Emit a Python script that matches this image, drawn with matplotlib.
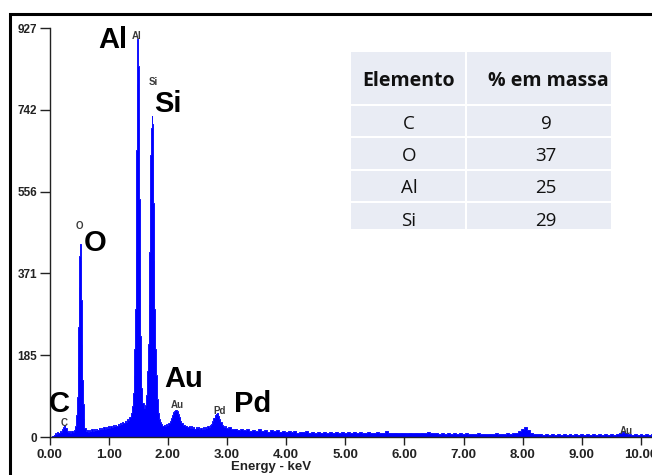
import matplotlib
matplotlib.use("Agg")
import matplotlib.pyplot as plt
from matplotlib.patches import Rectangle

# ---------------- data ----------------
energy_kev = [
    # C region
    0.00, 0.02, 0.04, 0.06, 0.08, 0.10, 0.12, 0.14, 0.16, 0.18, 0.20, 0.22, 0.24, 0.26, 0.28, 0.30,
    0.32, 0.34, 0.36, 0.38, 0.40, 0.42,
    # O peak
    0.44, 0.46, 0.47, 0.48, 0.49, 0.50, 0.51, 0.52, 0.53, 0.54, 0.55, 0.56, 0.57, 0.58, 0.60,
    # background 0.62 - 1.36
    0.62, 0.64, 0.66, 0.68, 0.70, 0.72, 0.74, 0.76, 0.78, 0.80, 0.82, 0.84, 0.86, 0.88, 0.90, 0.92,
    0.94, 0.96, 0.98, 1.00, 1.02, 1.04, 1.06, 1.08, 1.10, 1.12, 1.14, 1.16, 1.18, 1.20, 1.22, 1.24,
    1.26, 1.28, 1.30, 1.32, 1.34, 1.36,
    # Al peak
    1.38, 1.40, 1.42, 1.43, 1.44, 1.45, 1.46, 1.47, 1.48, 1.49, 1.50, 1.51, 1.52, 1.53, 1.54, 1.55,
    1.56, 1.58, 1.60, 1.62,
    # Si peak
    1.64, 1.66, 1.67, 1.68, 1.69, 1.70, 1.71, 1.72, 1.73, 1.74, 1.75, 1.76, 1.77, 1.78, 1.79, 1.80,
    1.82, 1.84, 1.86, 1.88, 1.90, 1.92, 1.94, 1.96, 1.98, 2.00,
    # Au / Pd region 2.02 - 3.00
    2.02, 2.04, 2.06, 2.08, 2.10, 2.12, 2.14, 2.16, 2.18, 2.20, 2.22, 2.24, 2.26, 2.28, 2.30, 2.32,
    2.34, 2.36, 2.38, 2.40, 2.42, 2.44, 2.46, 2.48, 2.50, 2.52, 2.54, 2.56, 2.58, 2.60, 2.62, 2.64,
    2.66, 2.68, 2.70, 2.72, 2.74, 2.76, 2.78, 2.80, 2.82, 2.84, 2.86, 2.88, 2.90, 2.92, 2.94, 2.96,
    2.98, 3.00,
    # tail 3.05 - 10.20
    3.05, 3.10, 3.15, 3.20, 3.25, 3.30, 3.35, 3.40, 3.45, 3.50, 3.55, 3.60, 3.65, 3.70,
    3.75, 3.80, 3.85, 3.90, 3.95, 4.00, 4.05, 4.10, 4.15, 4.20, 4.25, 4.30, 4.35, 4.40, 4.45, 4.50,
    4.55, 4.60, 4.65, 4.70, 4.75, 4.80, 4.85, 4.90, 4.95, 5.00, 5.05, 5.10, 5.15, 5.20, 5.25, 5.30,
    5.35, 5.40, 5.45, 5.50, 5.55, 5.60, 5.65, 5.70, 5.75, 5.80, 5.85, 5.90, 5.95, 6.00, 6.05, 6.10,
    6.15, 6.20, 6.25, 6.30, 6.35, 6.40, 6.45, 6.50, 6.55, 6.60, 6.65, 6.70, 6.75, 6.80, 6.85, 6.90,
    6.95, 7.00, 7.05, 7.10, 7.15, 7.20, 7.25, 7.30, 7.35, 7.40, 7.45, 7.50, 7.55, 7.60, 7.65, 7.70,
    7.75, 7.80, 7.85, 7.90, 7.95, 8.00, 8.05, 8.10, 8.15, 8.20, 8.25, 8.30, 8.35, 8.40, 8.45, 8.50,
    8.55, 8.60, 8.65, 8.70, 8.75, 8.80, 8.85, 8.90, 8.95, 9.00, 9.05, 9.10, 9.15, 9.20, 9.25, 9.30,
    9.35, 9.40, 9.45, 9.50, 9.55, 9.60, 9.65, 9.70, 9.75, 9.80, 9.85, 9.90, 9.95, 10.00, 10.05, 10.10,
    10.15, 10.20,
]
counts = [
    # C region
    0, 0, 1, 3, 5, 8, 7, 11, 9, 13, 12, 17, 22, 27, 21, 14,
    11, 13, 10, 14, 12, 16,
    # O peak
    24, 50, 90, 160, 250, 340, 410, 438, 400, 310, 210, 130, 75, 42, 20,
    # background 0.62 - 1.36
    13, 16, 12, 15, 13, 17, 14, 18, 15, 19, 16, 21, 17, 20, 18, 23,
    19, 22, 20, 25, 21, 24, 22, 27, 24, 28, 25, 30, 27, 32, 29, 34,
    31, 37, 34, 40, 38, 46,
    # Al peak
    55, 70, 100, 140, 200, 290, 420, 650, 800, 901, 840, 720, 540, 360, 230, 150,
    110, 78, 66, 72,
    # Si peak
    95, 150, 210, 300, 420, 540, 640, 700, 727, 710, 640, 530, 400, 290, 200, 140,
    85, 55, 40, 33, 29, 26, 28, 25, 29, 27,
    # Au / Pd region
    31, 36, 42, 50, 56, 60, 61, 58, 52, 45, 37, 31, 27, 28, 24, 26,
    22, 25, 21, 24, 20, 23, 19, 22, 20, 23, 19, 21, 18, 22, 19, 23,
    20, 24, 22, 27, 30, 36, 44, 50, 53, 55, 48, 40, 33, 28, 25, 22,
    24, 20,
    # tail
    22, 17, 19, 16, 18, 15, 17, 14, 16, 13, 17, 14, 15, 12,
    16, 13, 15, 12, 14, 11, 13, 11, 14, 10, 12, 11, 13, 10, 12, 9,
    12, 10, 11, 9, 12, 10, 11, 9, 12, 10, 11, 9, 12, 10, 11, 9,
    10, 12, 9, 10, 11, 9, 10, 14, 10, 9, 10, 8, 10, 9, 8, 10,
    8, 9, 8, 10, 8, 12, 9, 8, 9, 7, 8, 7, 9, 7, 8, 7,
    9, 7, 8, 6, 7, 6, 8, 6, 7, 6, 7, 6, 8, 6, 7, 6,
    9, 7, 8, 10, 13, 18, 22, 16, 10, 7, 6, 7, 5, 6, 5, 7,
    5, 6, 5, 6, 5, 7, 5, 6, 5, 6, 5, 6, 5, 6, 5, 6,
    5, 6, 5, 6, 5, 7, 9, 11, 8, 6, 5, 6, 5, 6, 5, 6,
    5, 6,
]

x_ticks = [0, 1, 2, 3, 4, 5, 6, 7, 8, 9, 10]
y_ticks = [0, 185, 371, 556, 742, 927]

# peak labels
label_text = ["Al", "Al", "Si", "Si", "O", "O", "C", "C", "Au", "Au", "Pd", "Pd", "Au"]
label_x = [1.07, 1.48, 1.75, 2.00, 0.50, 0.77, 0.16, 0.245, 2.27, 2.16, 2.87, 3.44, 9.76]
label_y = [900, 909, 805, 755, 478, 440, 75, 32, 131, 73, 59, 75, 14]
label_big = [True, False, False, True, False, True, True, False, True, False, False, True, False]

table_header = ["Elemento", "% em massa"]
table_elements = ["C", "O", "Al", "Si"]
table_mass_pct = [9, 37, 25, 29]

# ---------------- figure ----------------
W, H = 652, 475
fig = plt.figure(figsize=(W / 100, H / 100), dpi=100)
fig.patch.set_facecolor("white")

x0_px, y0_px = 49.5, 437.0
px_per_kev = 59.15
px_per_count = 0.4412
x_max = (W - x0_px) / px_per_kev
ax = fig.add_axes([x0_px / W, (H - y0_px) / H, (W - x0_px) / W, 927 * px_per_count / H])
ax.set_xlim(0, x_max)
ax.set_ylim(0, 927)

ax.fill_between(energy_kev, counts, 0, color="#0000ff", step="mid", lw=0)
ax.step(energy_kev, counts, where="mid", color="#1010ff", lw=0.7)

for s in ["top", "right"]:
    ax.spines[s].set_visible(False)
ax.spines["left"].set_color("#222222")
ax.spines["bottom"].set_color("#222222")
ax.spines["left"].set_linewidth(1.0)
ax.spines["bottom"].set_linewidth(1.0)

ax.set_xticks(x_ticks)
ax.set_xticklabels([f"{t:.2f}" for t in x_ticks])
ax.set_yticks(y_ticks)
ax.set_yticklabels([str(t) for t in y_ticks])
ax.tick_params(axis="x", direction="out", length=6, width=1, pad=3, labelsize=9.5, colors="#222222")
ax.tick_params(axis="y", direction="out", length=7, width=1, pad=2, labelsize=8.5, colors="#222222")
for lab in ax.get_xticklabels() + ax.get_yticklabels():
    lab.set_fontfamily("Liberation Sans")
    lab.set_fontweight("bold")

fig.text(271 / W, 1 - 467 / H, "Energy - keV", ha="center", va="center",
         fontsize=9.5, fontweight="bold", family="Liberation Sans", color="#222222")

for t, x, y, big in zip(label_text, label_x, label_y, label_big):
    if big:
        ax.text(x, y, t, ha="center", va="center", fontsize=21, fontweight="bold",
                family="Liberation Sans", color="black", clip_on=False)
    else:
        ax.text(x, y, t, ha="center", va="center", fontsize=7, fontweight="bold",
                family="Liberation Sans", color="#3a3a3a", clip_on=False)

# outer frame
fig.add_artist(Rectangle((10 / W, -0.05), 1.2, 1 - 14 / H + 0.05, transform=fig.transFigure,
                         fill=False, ec="black", lw=2.2))

# ---------------- table ----------------
tx0, tx1, ty0, ty1 = 351, 613, 52, 229
tax = fig.add_axes([tx0 / W, (H - ty1) / H, (tx1 - tx0) / W, (ty1 - ty0) / H])
tax.set_xlim(tx0, tx1)
tax.set_ylim(ty1, ty0)
tax.axis("off")
col_edges = [351, 467, 613]
row_edges = [52, 106, 138, 171, 203, 236]
cell_color = "#e9ecf4"
for r in range(len(row_edges) - 1):
    for c in range(2):
        tax.add_patch(Rectangle((col_edges[c], row_edges[r]), col_edges[c + 1] - col_edges[c] - 2,
                                row_edges[r + 1] - row_edges[r] - 2, fc=cell_color, ec="none"))
col_centers = [409, 546]
row_text_y = [124, 156, 188, 221]
tfont = "Open Sans"
for c, h in enumerate(table_header):
    tax.text(col_centers[c] + (2 if c == 1 else 0), 81, h, ha="center", va="center",
             fontsize=14, fontweight="bold", family=tfont, color="#111111")
for r, (el, pct) in enumerate(zip(table_elements, table_mass_pct)):
    yc = row_text_y[r]
    tax.text(col_centers[0], yc, el, ha="center", va="center", fontsize=13.5,
             family=tfont, color="#111111", clip_on=True)
    tax.text(col_centers[1], yc, str(pct), ha="center", va="center", fontsize=13.5,
             family=tfont, color="#111111", clip_on=True)

fig.savefig("out.png", dpi=100)
